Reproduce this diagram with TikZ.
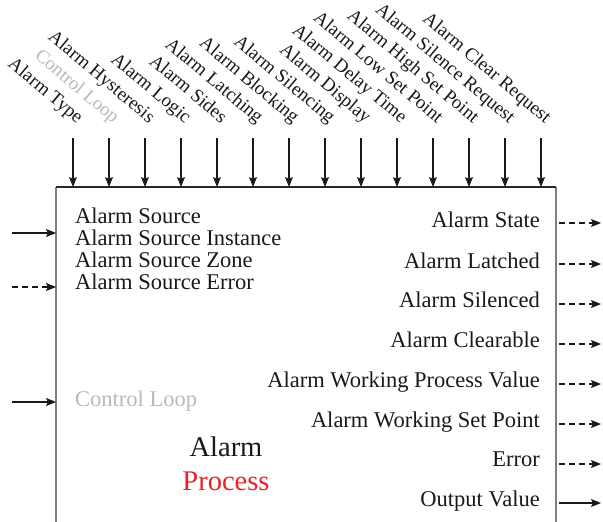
\documentclass[tikz,border=0pt]{standalone}
\usepackage{fontspec}
\setmainfont{Liberation Serif}
\usetikzlibrary{arrows.meta}
\definecolor{boxgray}{RGB}{128,128,128}
\definecolor{ltgray}{RGB}{185,185,185}
\definecolor{procred}{RGB}{232,35,40}
\definecolor{topline}{RGB}{40,40,40}
\definecolor{ink}{RGB}{25,25,25}
\tikzset{
  lbl/.style={font=\fontsize{22.5}{22.5}\selectfont, inner sep=0pt, text=ink},
  biglbl/.style={font=\fontsize{28.5}{28.5}\selectfont, inner sep=0pt, anchor=base, text=ink},
  toplbl/.style={font=\fontsize{19}{19}\selectfont, inner sep=0pt, rotate=-40, anchor=base east},
  inarrow/.style={-{Stealth[length=10pt,width=8pt,inset=2pt]}, line width=1.1pt, ink},
  dasharrow/.style={inarrow, dash pattern=on 6pt off 4pt},
  boxside/.style={boxgray, line width=1.5pt},
}
\begin{document}
\begin{tikzpicture}[x=1pt,y=-1pt]
\useasboundingbox (0,0) rectangle (603,522);
% box
\coordinate (tl) at (56,187);
\coordinate (tr) at (556,187);
\coordinate (bl) at (56,522);
\coordinate (br) at (556,522);
\draw[boxside] (bl) -- (tl);
\draw[boxside] (br) -- (tr);
\draw[topline, line width=1.3pt] (tl) -- (tr);
% top inputs
\foreach \t/\c [count=\k from 0] in {Alarm Type/ink, Control Loop/ltgray, Alarm Hysteresis/ink, Alarm Logic/ink, Alarm Sides/ink, Alarm Latching/ink, Alarm Blocking/ink, Alarm Silencing/ink, Alarm Display/ink, Alarm Delay Time/ink, Alarm Low Set Point/ink, Alarm High Set Point/ink, Alarm Silence Request/ink, Alarm Clear Request/ink}{
  \coordinate (ta\k) at ({73+36*\k},138);
  \node[toplbl, text=\c] (tlab\k) at ({77+36*\k},124) {\t};
  \draw[inarrow] (ta\k) -- (ta\k |- tl);
}
% left inputs
\node[lbl, anchor=base west] (src1) at (75,223) {Alarm Source};
\node[lbl, anchor=base west] (src2) at (75,245) {Alarm Source Instance};
\node[lbl, anchor=base west] (src3) at (75,267) {Alarm Source Zone};
\node[lbl, anchor=base west] (src4) at (75,289) {Alarm Source Error};
\node[lbl, anchor=base west, text=ltgray] (cl) at (75,406) {Control Loop};
\coordinate (li1) at (12,233);
\coordinate (li2) at (12,287);
\coordinate (li3) at (12,402);
\draw[inarrow] (li1) -- (li1 -| tl);
\draw[dasharrow] (li2) -- (li2 -| tl);
\draw[inarrow] (li3) -- (li3 -| tl);
% title
\node[biglbl] (t1) at (226,456) {Alarm};
\node[biglbl, text=procred] (t2) at (226,490) {Process};
% right outputs
\foreach \t/\yb/\ya [count=\k] in {Alarm State/227/223, Alarm Latched/268/264, Alarm Silenced/307/304, Alarm Clearable/347/344, Alarm Working Process Value/387/384, Alarm Working Set Point/427/424, Error/466/464}{
  \node[lbl, anchor=base east] (out\k) at (540,\yb) {\t};
  \coordinate (os\k) at (559,\ya);
  \coordinate (oe\k) at (601,\ya);
  \draw[dasharrow] (os\k) -- (oe\k);
}
\node[lbl, anchor=base east] (out8) at (540,506) {Output Value};
\coordinate (os8) at (559,503);
\coordinate (oe8) at (601,503);
\draw[inarrow] (os8) -- (oe8);
\end{tikzpicture}
\end{document}
